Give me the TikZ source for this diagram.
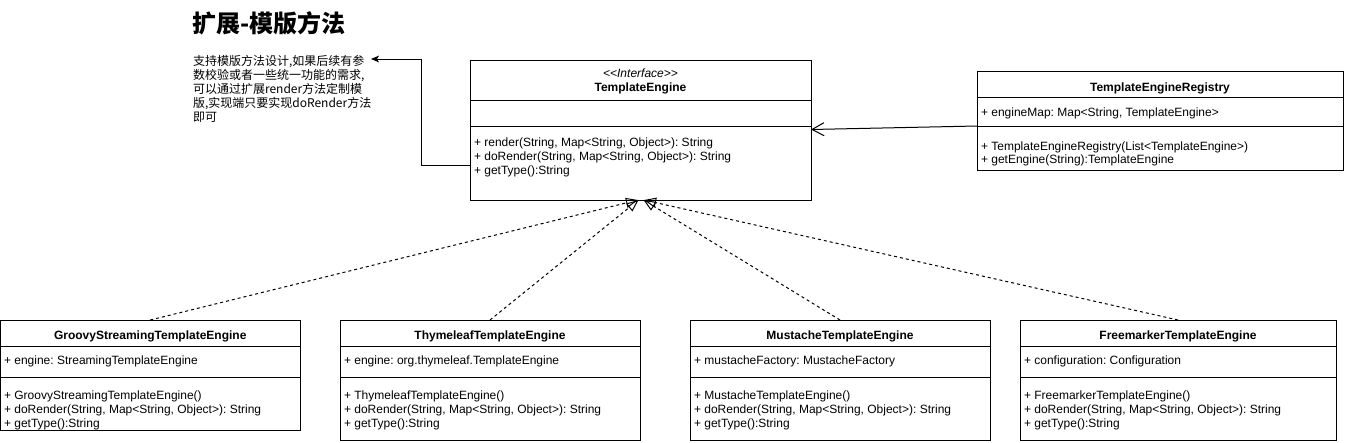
\documentclass[tikz,border=0pt]{standalone}
\usepackage{fontspec}
\setmainfont{Liberation Sans}
\newfontfamily\cjk{Noto Sans CJK SC}
\usetikzlibrary{arrows.meta,calc}
\frenchspacing
\begin{document}
\begin{tikzpicture}[x=0.75pt,y=-0.75pt,
  every node/.style={inner sep=0pt, outer sep=0pt},
  classbox/.style={draw=black, line width=0.75pt, fill=white, anchor=north west},
  txt/.style={font=\fontsize{9}{10.5}\selectfont, anchor=base west},
  ttl/.style={font=\fontsize{9}{10.5}\selectfont\bfseries, anchor=base},
  sepline/.style={draw=black, line width=0.75pt},
  realize/.style={draw=black, line width=0.75pt, dash pattern=on 2.25pt off 2.25pt, -{Triangle[open, length=9pt, width=7.5pt]}},
  assoc/.style={draw=black, line width=0.75pt, -{Straight Barb[length=9pt, width=9.75pt]}},
  notearrow/.style={draw=black, line width=0.75pt, -{Stealth[length=6pt, width=5pt, inset=1.5pt]}},
]
\useasboundingbox (0,0) rectangle (1347,443);

% title and note
\node[anchor=base west, font=\cjk\bfseries\fontsize{18}{20}\selectfont] (title) at (192,32) {扩展-模版方法};
\node[anchor=north west, align=left, font=\cjk\fontsize{9}{10.5}\selectfont] (note) at (193,55.5)
  {支持模版方法设计,如果后续有参\\数校验或者一些统一功能的需求,\\可以通过扩展render方法定制模\\版,实现端只要实现doRender方法\\即可};

% TemplateEngine
\node[classbox, minimum width=255.75pt, minimum height=105pt] (te) at (470,60) {};
\draw[sepline] (te.west |- 0,100) -- (te.east |- 0,100);
\draw[sepline] (te.west |- 0,126) -- (te.east |- 0,126);
\node[txt, anchor=base, font=\fontsize{9}{10.5}\selectfont\itshape] (te-s) at (te.north |- 0,77) {{<}{<}Interface{>}{>}};
\node[ttl] (te-t) at (te.north |- 0,91) {TemplateEngine};
\node[txt] (te-m1) at (474,146) {+ render(String, Map<String, Object>): String};
\node[txt] (te-m2) at (474,160) {+ doRender(String, Map<String, Object>): String};
\node[txt] (te-m3) at (474,174) {+ getType():String};

% Registry
\node[classbox, minimum width=274.5pt, minimum height=74.25pt] (reg) at (977,71) {};
\draw[sepline] (reg.west |- 0,97) -- (reg.east |- 0,97);
\draw[sepline] (reg.west |- 0,126) -- (reg.east |- 0,126);
\node[ttl] (reg-t) at (reg.north |- 0,91) {TemplateEngineRegistry};
\node[txt] (reg-a) at (981,116) {+ engineMap: Map<String, TemplateEngine>};
\node[txt] (reg-m1) at (981,150) {+ TemplateEngineRegistry(List<TemplateEngine>)};
\node[txt] (reg-m2) at (981,163) {+ getEngine(String):TemplateEngine};

% Groovy
\node[classbox, minimum width=224.625pt, minimum height=82.5pt] (gr) at (0.5,320) {};
\draw[sepline] (gr.west |- 0,346) -- (gr.east |- 0,346);
\draw[sepline] (gr.west |- 0,377) -- (gr.east |- 0,377);
\node[ttl] (gr-t) at (gr.north |- 0,339) {GroovyStreamingTemplateEngine};
\node[txt] (gr-a) at (4,364) {+ engine: StreamingTemplateEngine};
\node[txt] (gr-m1) at (4,399) {+ GroovyStreamingTemplateEngine()};
\node[txt] (gr-m2) at (4,413) {+ doRender(String, Map<String, Object>): String};
\node[txt] (gr-m3) at (4,427) {+ getType():String};

% Thymeleaf
\node[classbox, minimum width=225pt, minimum height=90pt] (th) at (340,320) {};
\draw[sepline] (th.west |- 0,346) -- (th.east |- 0,346);
\draw[sepline] (th.west |- 0,377) -- (th.east |- 0,377);
\node[ttl] (th-t) at (th.north |- 0,339) {ThymeleafTemplateEngine};
\node[txt] (th-a) at (344,364) {+ engine: org.thymeleaf.TemplateEngine};
\node[txt] (th-m1) at (344,399) {+ ThymeleafTemplateEngine()};
\node[txt] (th-m2) at (344,413) {+ doRender(String, Map<String, Object>): String};
\node[txt] (th-m3) at (344,427) {+ getType():String};

% Mustache
\node[classbox, minimum width=225pt, minimum height=90pt] (mu) at (690,320) {};
\draw[sepline] (mu.west |- 0,346) -- (mu.east |- 0,346);
\draw[sepline] (mu.west |- 0,377) -- (mu.east |- 0,377);
\node[ttl] (mu-t) at (mu.north |- 0,339) {MustacheTemplateEngine};
\node[txt] (mu-a) at (694,364) {+ mustacheFactory: MustacheFactory};
\node[txt] (mu-m1) at (694,399) {+ MustacheTemplateEngine()};
\node[txt] (mu-m2) at (694,413) {+ doRender(String, Map<String, Object>): String};
\node[txt] (mu-m3) at (694,427) {+ getType():String};

% Freemarker
\node[classbox, minimum width=237pt, minimum height=90pt] (fm) at (1020,320) {};
\draw[sepline] (fm.west |- 0,346) -- (fm.east |- 0,346);
\draw[sepline] (fm.west |- 0,377) -- (fm.east |- 0,377);
\node[ttl] (fm-t) at (fm.north |- 0,339) {FreemarkerTemplateEngine};
\node[txt] (fm-a) at (1024,364) {+ configuration: Configuration};
\node[txt] (fm-m1) at (1024,399) {+ FreemarkerTemplateEngine()};
\node[txt] (fm-m2) at (1024,413) {+ doRender(String, Map<String, Object>): String};
\node[txt] (fm-m3) at (1024,427) {+ getType():String};

% connectors
\coordinate (notetip) at (371,59);
\draw[notearrow] (te.west |- 0,165) -- (421,165) -- (421,59) -- (notetip);
\draw[assoc] (reg.west |- 0,126) -- (te.east |- 0,129.5);
\draw[realize] (gr.north) -- ($(te.south)+(-2.5,0)$);
\draw[realize] (th.north) -- ($(te.south)+(-2,0)$);
\draw[realize] (mu.north) -- ($(te.south)+(3,0)$);
\draw[realize] (fm.north) -- ($(te.south)+(3.5,0)$);
\end{tikzpicture}
\end{document}
